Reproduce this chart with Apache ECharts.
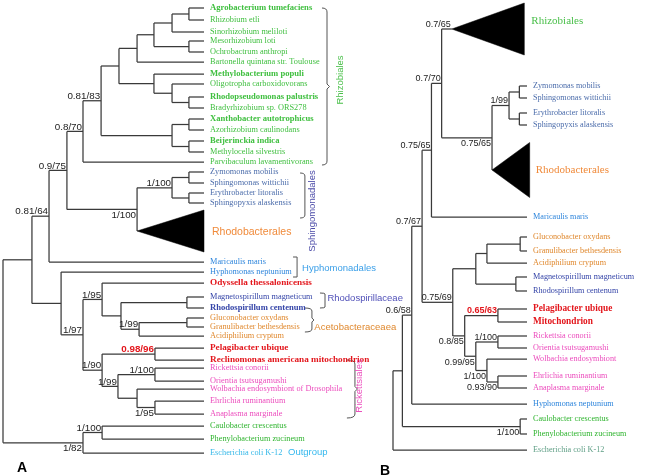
<!DOCTYPE html>
<html><head><meta charset="utf-8">
<script src="https://cdn.jsdelivr.net/npm/echarts@6/dist/echarts.min.js"></script>
<style>html,body{margin:0;padding:0;background:#fff}#c{width:661px;height:475px}</style>
</head><body><div id="c"></div>
<script>
// ================= DATA =================
// Panel A: leaves (top to bottom), their row position, clade group
const leavesA = ['Agrobacterium tumefaciens','Rhizobium etli','Sinorhizobium meliloti','Mesorhizobium loti','Ochrobactrum anthropi','Bartonella quintana str. Toulouse','Methylobacterium populi','Oligotropha carboxidovorans','Rhodopseudomonas palustris','Bradyrhizobium sp. ORS278','Xanthobacter autotrophicus','Azorhizobium caulinodans','Beijerinckia indica','Methylocella silvestris','Parvibaculum lavamentivorans','Zymomonas mobilis','Sphingomonas wittichii','Erythrobacter litoralis','Sphingopyxis alaskensis','Rhodobacterales','Maricaulis maris','Hyphomonas neptunium','Odyssella thessalonicensis','Magnetospirillum magneticum','Rhodospirillum centenum','Gluconobacter oxydans','Granulibacter bethesdensis','Acidiphilium cryptum','Pelagibacter ubique','Reclinomonas americana mitochondrion','Rickettsia conorii','Orientia tsutsugamushi','Wolbachia endosymbiont of Drosophila','Ehrlichia ruminantium','Anaplasma marginale','Caulobacter crescentus','Phenylobacterium zucineum','Escherichia coli K-12'];
const leafRowA = [8,20,32,41,52,62,74,84,97,108,119,130,141,152,162,172,183,193,203,231,262,272,283,297,308,318,327,336,348,360,368,381,389,401,414,426,439,453];
const leafGroupA = ['rhi','rhi','rhi','rhi','rhi','rhi','rhi','rhi','rhi','rhi','rhi','rhi','rhi','rhi','rhi','sph','sph','sph','sph','rhb','hyp','hyp','red','rsp','rsp','ace','ace','ace','red','red','ric','ric','ric','ric','ric','cau','cau','eco'];
const boldLeaves = ['Agrobacterium tumefaciens','Methylobacterium populi','Rhodopseudomonas palustris','Xanthobacter autotrophicus','Beijerinckia indica','Rhodospirillum centenum'];
// topology: (children)'support':node depth   (tips at depth 100; '_' = support printed under the branch)
const newickA =
  "(((((((((((Agrobacterium tumefaciens,Rhizobium etli):92.5,Sinorhizobium meliloti):84.1," +
  "(Mesorhizobium loti,Ochrobactrum anthropi):92.5):75.1,Bartonella quintana str. Toulouse):66.7," +
  "(Methylobacterium populi,(Oligotropha carboxidovorans,(Rhodopseudomonas palustris,Bradyrhizobium sp. ORS278):92.5):84.1):75.1):57.7," +
  "((Xanthobacter autotrophicus,Azorhizobium caulinodans):92.5,(Beijerinckia indica,Methylocella silvestris):92.5):84.1)'0.81/83':48.8," +
  "Parvibaculum lavamentivorans)'0.8/70':39.8," +
  "(((Zymomonas mobilis,Sphingomonas wittichii):92.5,(Erythrobacter litoralis,Sphingopyxis alaskensis):92.5)'1/100':84.1,Rhodobacterales:66.7)'_1/100':66.7)'0.9/75':31.8," +
  "Maricaulis maris)'0.81/64':22.9," +
  "(Hyphomonas neptunium,((Odyssella thessalonicensis,((Magnetospirillum magneticum,Rhodospirillum centenum):91.5," +
  "((Gluconobacter oxydans,Granulibacter bethesdensis):91.5,Acidiphilium cryptum)'1/99':67.7):58.7)'1/95':49.3," +
  "((Pelagibacter ubique,Reclinomonas americana mitochondrion)'0.98/96':75.6," +
  "((Rickettsia conorii,Orientia tsutsugamushi)'1/100':75.6,(Wolbachia endosymbiont of Drosophila," +
  "(Ehrlichia ruminantium,Anaplasma marginale)'_1/95':75.6):66.7)'1/99':57.2)'1/90':49.3)'1/97':39.8):28.9):14.4," +
  "((Caulobacter crescentus,Phenylobacterium zucineum)'1/100':49.3,Escherichia coli K-12)'_1/82':39.8):0;";
const collapsedA = ['Rhodobacterales'];
const collapsedTipA = [100];
const collapsedSpreadA = [21];
const redSupportA = ['0.98/96'];
const cladesA = ['Rhizobiales','Sphingomonadales','Hyphomonadales','Rhodospirillaceae','Acetobacteraceaea','Rickettsiales','Outgroup'];
const cladeSpanA = [[8,165],[173,218],[257,277],[293,308],[308,332],[360,418],[452,452]];

// Panel B
const leavesB = ['Rhizobiales','Zymomonas mobilis','Sphingomonas wittichii','Erythrobacter litoralis','Sphingopyxis alaskensis','Rhodobacterales','Maricaulis maris','Gluconobacter oxydans','Granulibacter bethesdensis','Acidiphilium cryptum','Magnetospirillum magneticum','Rhodospirillum centenum','Pelagibacter ubique','Mitochondrion','Rickettsia conorii','Orientia tsutsugamushi','Wolbachia endosymbiont','Ehrlichia ruminantium','Anaplasma marginale','Hyphomonas neptunium','Caulobacter crescentus','Phenylobacterium zucineum','Escherichia coli K-12'];
const leafRowB = [29,86,98,113,125,170,217,237,251,263,277,291,309,322,336,348,359,376,388,404,419,434,450];
const leafGroupB = ['rhiB','sph','sph','sph','sph','rhbB','hyp','ace','ace','ace','rsp','rsp','red','red','ric','ric','ric','ric','ric','hyp','cau','cau','ecoB'];
const newickB =
  "((((((Rhizobiales'0.7/65':43.9,(((Zymomonas mobilis,Sphingomonas wittichii):94.3,(Erythrobacter litoralis,Sphingopyxis alaskensis):94.3)'1/99':86.6," +
  "Rhodobacterales:73.9)'_0.75/65':73.9)'0.7/70':36.3,Maricaulis maris)'0.75/65':28.7," +
  "((((Gluconobacter oxydans,Granulibacter bethesdensis):94.9,Acidiphilium cryptum):70.1,(Magnetospirillum magneticum,Rhodospirillum centenum):91.7):61.8," +
  "((Pelagibacter ubique,Mitochondrion)'0.65/63':78.3,((Rickettsia conorii,Orientia tsutsugamushi)'1/100':78.3," +
  "(Wolbachia endosymbiont,(Ehrlichia ruminantium,Anaplasma marginale)'_0.93/90':78.3)'_1/100':70.1)'_0.99/95':61.8)'_0.8/85':53.5)'0.75/69':44.6)'0.7/67':21.7," +
  "Hyphomonas neptunium)'0.6/58':14,(Caulobacter crescentus,Phenylobacterium zucineum)'_1/100':94.9):7,Escherichia coli K-12):0;";
const collapsedB = ['Rhizobiales','Rhodobacterales'];
const collapsedTipB = [98,102];
const collapsedSpreadB = [26,27.5];
const redSupportB = ['0.65/63'];

// ================= STYLE / LAYOUT =================
const SERIF = '"Liberation Serif","Times New Roman",serif';
const SANS = '"Liberation Sans",Arial,sans-serif';
const COLORS = {rhi:'#3fbf3f', rhiB:'#49bf49', sph:'#4c6dab', rhb:'#f08a3a', rhbB:'#f08a3a', hyp:'#2f86dc', red:'#e3161c',
  rsp:'#3545a8', ace:'#e0892f', ric:'#ec4cbd', cau:'#2fb42f', eco:'#35b8e8', ecoB:'#5e9e85'};
const LINE = '#3a3a3a';
const cladeStyleA = [
  {color:'#4cc04c', x0:158.7, x1:161.2, lx:167.7, ly:80, rot:true, r:4, nub:2.5},
  {color:'#4b4ba8', x0:147.8, x1:150.2, lx:153.9, ly:211, rot:true, r:3, nub:0},
  {color:'#3a9fe8', x0:144.3, x1:146.3, lx:148.8, ly:268, rot:false, r:0, nub:0},
  {color:'#5050b8', x0:157.7, x1:160.2, lx:161.4, ly:298, rot:false, r:1, nub:0},
  {color:'#e0892f', x0:150.2, x1:153.7, lx:154.9, ly:327, rot:false, r:3, nub:2},
  {color:'#ec4cbd', x0:171.1, x1:175.1, lx:177.3, ly:386, rot:true, r:4, nub:2.5},
  {color:'#33b8ee', x0:null, lx:141.8, ly:452, rot:false}
];

// ================= TREE HELPERS =================
function parseNewick(s) {
  let i = 0;
  function readLabel(node) {
    if (s[i] === "'") {
      const j = s.indexOf("'", i + 1);
      let lab = s.slice(i + 1, j);
      node.below = lab[0] === '_';
      node.label = node.below ? lab.slice(1) : lab;
      i = j + 1;
    }
  }
  function node() {
    const n = {children: []};
    if (s[i] === '(') {
      i++;
      n.children.push(node());
      while (s[i] === ',') { i++; n.children.push(node()); }
      i++;
    } else {
      let j = i;
      while (j < s.length && ",():;'".indexOf(s[j]) < 0) j++;
      n.name = s.slice(i, j).trim();
      i = j;
    }
    readLabel(n);
    if (s[i] === ':') {
      i++;
      let j = i;
      while (j < s.length && ",();".indexOf(s[j]) < 0) j++;
      n.depth = parseFloat(s.slice(i, j));
      i = j;
    }
    return n;
  }
  return node();
}

function buildPanel(cfg) {
  const root = parseNewick(cfg.newick);
  const rowOf = {}, groupOf = {};
  cfg.leaves.forEach((l, k) => { rowOf[l] = cfg.rows[k]; groupOf[l] = cfg.groups[k]; });
  const segs = [], tris = [], texts = [];
  (function walk(n, parent) {
    n.x = n.depth != null ? n.depth : 100;
    if (n.children.length) {
      n.children.forEach(c => walk(c, n));
      n.y = (n.children[0].y + n.children[n.children.length - 1].y) / 2;
      segs.push([n.x, n.children[0].y, n.x, n.children[n.children.length - 1].y]);
    } else {
      n.y = rowOf[n.name];
      const ci = cfg.collapsed.indexOf(n.name);
      const g = groupOf[n.name];
      if (ci >= 0) {
        const tip = cfg.collapsedTip[ci];
        tris.push([n.x, n.y, tip, cfg.collapsedSpread[ci]]);
        texts.push({v: [tip, n.y], text: n.name, color: COLORS[g], font: cfg.triFont, align: 'left', dx: cfg.triDx[ci], dy: cfg.triDy[ci]});
      } else {
        let font = cfg.leafFont;
        if (g === 'red') font = cfg.redFont;
        else if (boldLeaves.indexOf(n.name) >= 0 && cfg.useBold) font = cfg.boldFont;
        texts.push({v: [n.x, n.y], text: n.name, color: COLORS[g], font: font, align: 'left', dx: 6, dy: 0});
      }
    }
    if (parent) segs.push([parent.x, n.y, n.x, n.y]);
    if (n.label) {
      const red = cfg.red.indexOf(n.label) >= 0;
      texts.push({v: [n.x, n.y], text: n.label, color: red ? '#e3161c' : '#222',
        font: (red ? 'bold ' : '') + cfg.supFont, align: 'right', dx: -1, dy: n.below ? 6 : -4.5});
    }
  })(root, null);
  return {segs, tris, texts};
}

const panelA = buildPanel({newick: newickA, leaves: leavesA, rows: leafRowA, groups: leafGroupA,
  collapsed: collapsedA, collapsedTip: collapsedTipA, collapsedSpread: collapsedSpreadA, triDx: [8], triDy: [1],
  triFont: '10.5px ' + SANS, leafFont: '8.3px ' + SERIF, boldFont: 'bold 8.6px ' + SERIF, redFont: 'bold 9.2px ' + SERIF,
  useBold: true, red: redSupportA, supFont: '9.8px ' + SANS});
const panelB = buildPanel({newick: newickB, leaves: leavesB, rows: leafRowB, groups: leafGroupB,
  collapsed: collapsedB, collapsedTip: collapsedTipB, collapsedSpread: collapsedSpreadB, triDx: [7, 6], triDy: [-8, 0],
  triFont: '11px ' + SERIF, leafFont: '8.2px ' + SERIF, boldFont: 'bold 8.2px ' + SERIF, redFont: 'bold 9.3px ' + SERIF,
  useBold: false, red: redSupportB, supFont: '9px ' + SANS});

// clade annotations for panel A
const brackets = [];
cladesA.forEach((name, k) => {
  const st = cladeStyleA[k];
  const sp = cladeSpanA[k];
  if (st.x0 != null) brackets.push({v: [st.x0, sp[0], st.x1, sp[1]], r: st.r, nub: st.nub});
  panelA.texts.push({v: [st.lx, st.ly], text: name, color: st.color, font: '9.5px ' + SANS,
    align: st.rot ? 'center' : 'left', dx: 0, dy: 0, rot: st.rot ? Math.PI / 2 : 0});
});

// ================= SERIES =================
function lineSeries(idx, segs) {
  return {type: 'custom', xAxisIndex: idx, yAxisIndex: idx, data: segs, silent: true,
    renderItem: (p, api) => {
      const a = api.coord([api.value(0), api.value(1)]);
      const b = api.coord([api.value(2), api.value(3)]);
      return {type: 'line', shape: {x1: a[0], y1: a[1], x2: b[0], y2: b[1]}, style: {stroke: LINE, lineWidth: 1.25}};
    }};
}
function triSeries(idx, tris) {
  return {type: 'custom', xAxisIndex: idx, yAxisIndex: idx, data: tris, silent: true,
    renderItem: (p, api) => {
      const x = api.value(0), y = api.value(1), tip = api.value(2), h = api.value(3);
      const pts = [api.coord([x, y]), api.coord([tip, y - h]), api.coord([tip, y + h])];
      return {type: 'polygon', shape: {points: pts}, style: {fill: '#000', stroke: '#000', lineWidth: 0.5}};
    }};
}
function textSeries(idx, texts) {
  return {type: 'custom', xAxisIndex: idx, yAxisIndex: idx, data: texts.map(t => t.v), silent: true,
    renderItem: (p, api) => {
      const t = texts[p.dataIndex];
      const c = api.coord([api.value(0), api.value(1)]);
      return {type: 'text', x: c[0] + t.dx, y: c[1] + t.dy, rotation: t.rot || 0,
        style: {text: t.text, fill: t.color, font: t.font, align: t.align, verticalAlign: 'middle',
          textAlign: t.align, textVerticalAlign: 'middle'}};
    }};
}
function bracketSeries(idx, list) {
  return {type: 'custom', xAxisIndex: idx, yAxisIndex: idx, data: list.map(b => b.v), silent: true,
    renderItem: (p, api) => {
      const b = list[p.dataIndex];
      const A = api.coord([api.value(0), api.value(1)]);
      const B = api.coord([api.value(2), api.value(3)]);
      const xa = A[0], xb = B[0], ya = A[1], yb = B[1], r = b.r, n = b.nub, ym = (ya + yb) / 2;
      let d = 'M' + xa + ',' + ya + ' Q' + xb + ',' + ya + ' ' + xb + ',' + (ya + r) + ' ';
      if (n) d += 'L' + xb + ',' + (ym - n) + ' L' + (xb + n) + ',' + ym + ' L' + xb + ',' + (ym + n) + ' ';
      d += 'L' + xb + ',' + (yb - r) + ' Q' + xb + ',' + yb + ' ' + xa + ',' + yb;
      return {type: 'path', shape: {pathData: d}, style: {stroke: '#555', fill: 'none', lineWidth: 1}};
    }};
}

const chart = echarts.init(document.getElementById('c'), null, {renderer: 'canvas'});
const hidden = {show: false};
chart.setOption({
  animation: false,
  backgroundColor: '#fff',
  title: [
    {text: 'A', left: 12, top: 456, textStyle: {fontSize: 14, fontWeight: 'bold', fontFamily: SANS, color: '#000'}},
    {text: 'B', left: 375, top: 459, textStyle: {fontSize: 14, fontWeight: 'bold', fontFamily: SANS, color: '#000'}}
  ],
  grid: [
    {left: 3, top: 0, width: 402, height: 475},
    {left: 393, top: 0, width: 314, height: 475}
  ],
  xAxis: [
    {type: 'value', gridIndex: 0, min: 0, max: 200, ...hidden},
    {type: 'value', gridIndex: 1, min: 0, max: 200, ...hidden}
  ],
  yAxis: [
    {type: 'value', gridIndex: 0, min: 0, max: 475, inverse: true, ...hidden},
    {type: 'value', gridIndex: 1, min: 0, max: 475, inverse: true, ...hidden}
  ],
  series: [
    lineSeries(0, panelA.segs), triSeries(0, panelA.tris), bracketSeries(0, brackets), textSeries(0, panelA.texts),
    lineSeries(1, panelB.segs), triSeries(1, panelB.tris), textSeries(1, panelB.texts)
  ]
});
</script></body></html>
